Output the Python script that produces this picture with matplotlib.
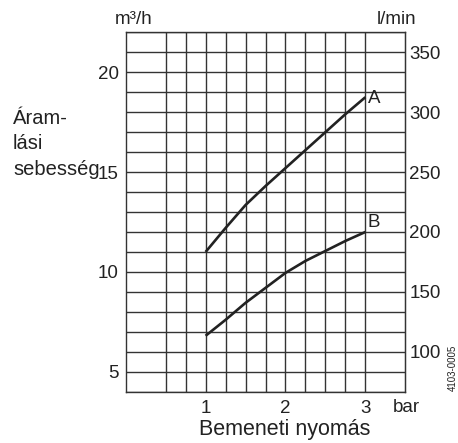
import numpy as np
import matplotlib
matplotlib.use('Agg')
import matplotlib.pyplot as plt

plt.rcParams['font.family'] = ['Liberation Sans', 'DejaVu Sans']

# Daten
pressure = [1.0, 1.25, 1.5, 1.75, 2.0, 2.25, 2.5, 2.75, 3.0]          # bar
flow_a = [11.0, 12.2, 13.35, 14.3, 15.2, 16.1, 17.0, 17.9, 18.75]     # m3/h
flow_b = [6.8, 7.6, 8.45, 9.2, 9.95, 10.55, 11.05, 11.55, 12.0]       # m3/h

x_ticks = [1, 2, 3]
y_ticks_left = [5, 10, 15, 20]
y_ticks_right = [100, 150, 200, 250, 300, 350]

GRID = '#333333'
CURVE = '#222222'
TXT = '#222222'
FS = 13.5

fig = plt.figure(figsize=(4.58, 4.43), dpi=100)
ax = fig.add_axes([0.2745, 0.1158, 0.6105, 0.8113])

ax.set_xlim(0, 3.5)
ax.set_ylim(4, 22)

ax.set_xticks(x_ticks)
ax.set_xticks(np.arange(0.5, 3.01, 0.25), minor=True)
ax.set_yticks(y_ticks_left)
ax.set_yticks(np.arange(4, 22.01, 1), minor=True)
ax.grid(True, which='both', color=GRID, linewidth=1.0)
ax.tick_params(which='both', length=0, labelsize=FS, colors=TXT)
ax.tick_params(axis='y', pad=5)
ax.tick_params(axis='x', pad=6)
for s in ax.spines.values():
    s.set_color(GRID)
    s.set_linewidth(1.0)

ax.plot(pressure, flow_a, color=CURVE, linewidth=1.9, solid_capstyle='butt')
ax.plot(pressure, flow_b, color=CURVE, linewidth=1.9, solid_capstyle='butt')
ax.text(pressure[-1] + 0.03, flow_a[-1] - 0.05, 'A', fontsize=FS, color=TXT, va='center')
ax.text(pressure[-1] + 0.03, flow_b[-1] + 0.45, 'B', fontsize=FS, color=TXT, va='center')

# rechte Achse in l/min
sec = ax.secondary_yaxis('right', functions=(lambda v: v * 1000 / 60, lambda v: v * 60 / 1000))
sec.set_yticks(y_ticks_right)
sec.tick_params(length=0, labelsize=FS, colors=TXT, pad=3)
sec.spines['right'].set_color(GRID)

fig.text(134 / 458, 1 - 19 / 443, 'm³/h', fontsize=FS, ha='center', va='center', color=TXT)
fig.text(397 / 458, 1 - 19 / 443, 'l/min', fontsize=FS, ha='center', va='center', color=TXT)
fig.text(406 / 458, 1 - 407 / 443, 'bar', fontsize=FS, ha='center', va='center', color=TXT)
fig.text(285 / 458, 1 - 430 / 443, 'Bemeneti nyomás', fontsize=15.5, ha='center', va='center', color=TXT)
fig.text(13 / 458, 1 - 109 / 443, 'Áram-\nlási\nsebesség', fontsize=14.5, ha='left', va='top',
         linespacing=1.42, color=TXT)
fig.text(453 / 458, 1 - 368 / 443, '4103-0005', fontsize=7, rotation=90, ha='center', va='center', color=TXT)

fig.savefig('out.png', dpi=100)
